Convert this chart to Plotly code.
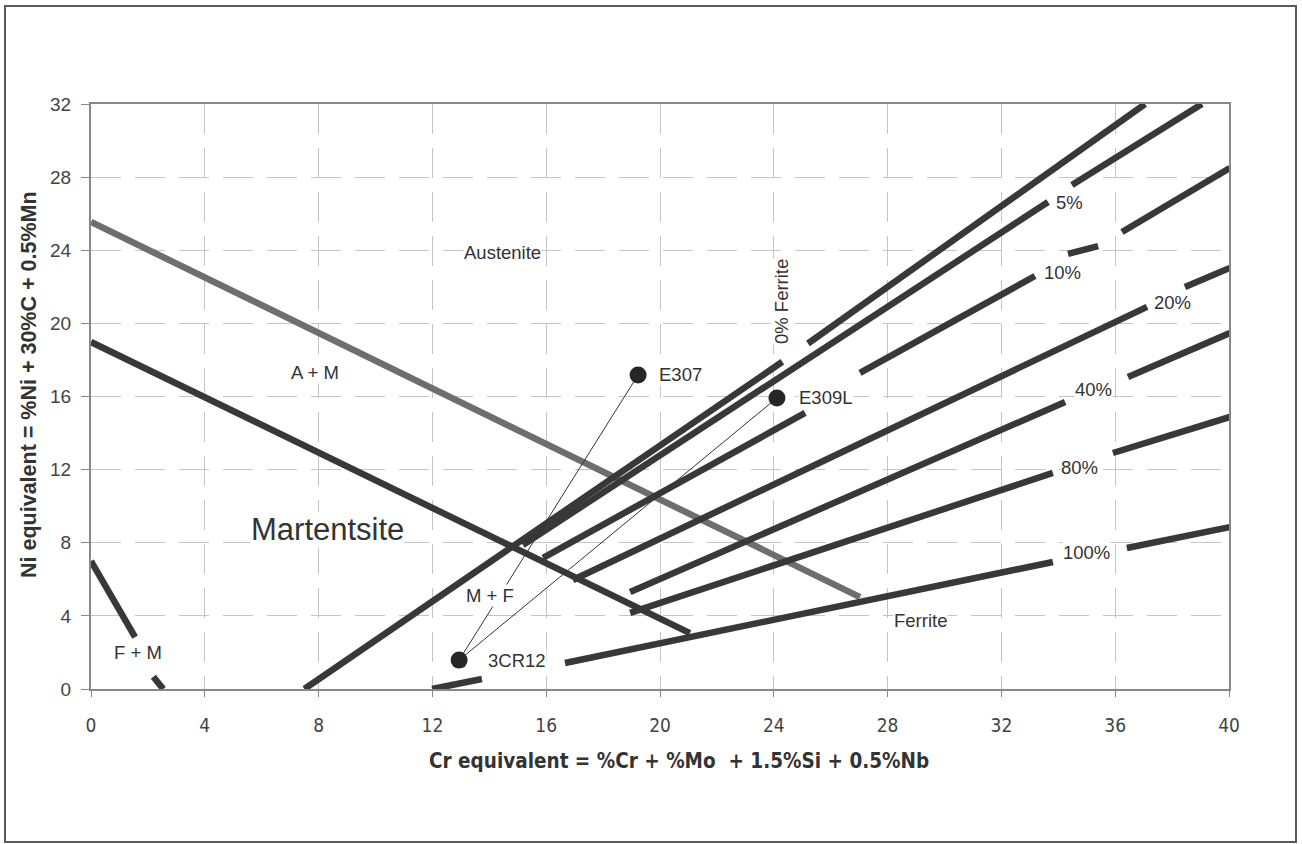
import plotly.graph_objects as go

# ---- data (Schaeffler-type constitution diagram) ----
# phase boundary lines (None = break in the printed line)
fm_x = [0.0, 1.55, None, 2.19, 2.54]
fm_y = [7.0, 2.84, None, 0.67, 0.0]
am_x = [0.0, 27.03]
am_y = [25.55, 5.03]
m_x = [0.0, 21.05]
m_y = [18.98, 3.06]
mf_x = [7.5, 24.3, None, 25.2, 37.05]
mf_y = [0.0, 17.9, None, 18.9, 32.0]

# iso-ferrite lines
f5_x = [15.18, 33.64, None, 34.48, 39.05]
f5_y = [7.88, 26.64, None, 27.57, 32.0]
f10_x = [15.89, 25.1, None, 27.03, 33.18, None, 34.34, 35.4, None, 36.24, 40.03]
f10_y = [7.17, 15.1, None, 17.29, 22.59, None, 23.8, 24.23, None, 25.0, 28.5]
f20_x = [16.94, 37.12, None, 38.45, 40.03]
f20_y = [5.96, 20.9, None, 21.99, 23.03]
f40_x = [18.95, 34.24, None, 36.45, 40.03]
f40_y = [5.31, 15.7, None, 17.07, 19.47]
f80_x = [18.95, 33.81, None, 35.92, 40.03]
f80_y = [4.16, 11.82, None, 12.91, 14.88]
f100_x = [11.99, 13.74, None, 16.66, 33.81, None, 36.41, 40.03]
f100_y = [0.0, 0.55, None, 1.42, 6.95, None, 7.71, 8.86]

# alloys
alloy_names = ["3CR12", "E307", "E309L"]
alloy_cr = [12.94, 19.23, 24.11]
alloy_ni = [1.58, 17.18, 15.92]

# region / line labels
label_text = ["Austenite", "A + M", "Martentsite", "M + F", "F + M", "Ferrite",
              "5%", "10%", "20%", "40%", "80%", "100%"]
label_x = [14.48, 7.87, 8.33, 14.02, 1.65, 29.14, 34.41, 34.13, 38.03, 35.22, 34.76, 35.0]
label_y = [23.9, 17.29, 8.7, 5.14, 2.02, 3.77, 26.59, 22.81, 21.12, 16.36, 12.09, 7.49]

x_ticks = [0, 4, 8, 12, 16, 20, 24, 28, 32, 36, 40]
y_ticks = [0, 4, 8, 12, 16, 20, 24, 28, 32]
x_title = "Cr equivalent = %Cr + %Mo  + 1.5%Si + 0.5%Nb"
y_title = "Ni equivalent = %Ni + 30%C + 0.5%Mn"

# ---- layout helpers (pixel geometry of the page) ----
W, H = 1302, 844
L, R, T, B = 91, 1229, 104, 689
pw, ph = R - L, B - T


def px(xp):
    return (xp - L) / pw


def py(yp):
    return (B - yp) / ph


DARK = "#383838"
GREY = "#6e6e6e"
FONT = "Liberation Sans, Arial, sans-serif"
NARROW = "Liberation Sans Narrow, DejaVu Sans Condensed, sans-serif"
label_size = [18.5, 18.5, 31, 18.5, 18.5, 18.5, 18.5, 18.5, 18.5, 18.5, 18.5, 18.5]
alloy_shift = [28, 20, 21]

fig = go.Figure()


def add_line(xs, ys, color=DARK, width=6.5):
    fig.add_trace(go.Scatter(x=xs, y=ys, mode="lines", connectgaps=False,
                             line=dict(color=color, width=width),
                             hoverinfo="skip", showlegend=False))


add_line(am_x, am_y, color=GREY)
for xs, ys in [(fm_x, fm_y), (m_x, m_y), (mf_x, mf_y), (f5_x, f5_y),
               (f10_x, f10_y), (f20_x, f20_y), (f40_x, f40_y),
               (f80_x, f80_y), (f100_x, f100_y)]:
    add_line(xs, ys)

# thin connectors from 3CR12 to the filler metals
for i in (1, 2):
    fig.add_trace(go.Scatter(x=[alloy_cr[0], alloy_cr[i]], y=[alloy_ni[0], alloy_ni[i]],
                             mode="lines", line=dict(color="#333333", width=1),
                             hoverinfo="skip", showlegend=False))

fig.add_trace(go.Scatter(x=alloy_cr, y=alloy_ni, mode="markers",
                         marker=dict(size=17, color="#262626"),
                         text=alloy_names, showlegend=False))

annotations = []
for t, x, y, s in zip(label_text, label_x, label_y, label_size):
    annotations.append(dict(x=x, y=y, xref="x", yref="y", text=t, showarrow=False,
                            font=dict(family=FONT, size=s, color="#333333"),
                            bgcolor="white", borderpad=0))
for n, x, y, sh in zip(alloy_names, alloy_cr, alloy_ni, alloy_shift):
    annotations.append(dict(x=x, y=y, xref="x", yref="y", text=n, showarrow=False,
                            xanchor="left", xshift=sh,
                            font=dict(family=FONT, size=18.5, color="#333333"),
                            bgcolor="white", borderpad=0))
annotations.append(dict(x=24.29, y=21.17, xref="x", yref="y", text="0% Ferrite",
                        showarrow=False, textangle=-90,
                        font=dict(family=FONT, size=18.5, color="#333333"),
                        bgcolor="white", borderpad=0))
# axis titles
annotations.append(dict(x=px(679), y=py(761), xref="paper", yref="paper",
                        xanchor="center", yanchor="middle",
                        text="<b>" + x_title + "</b>", showarrow=False,
                        font=dict(family=NARROW, size=20.5, color="#333333")))
annotations.append(dict(x=px(29), y=py(385), xref="paper", yref="paper",
                        xanchor="center", yanchor="middle",
                        text="<b>" + y_title + "</b>", showarrow=False, textangle=-90,
                        font=dict(family=FONT, size=21.5, color="#333333")))

shapes = [dict(type="rect", xref="paper", yref="paper",
               x0=px(5), x1=px(1296), y0=py(842), y1=py(6),
               line=dict(color="#5a5a5a", width=2), fillcolor="rgba(0,0,0,0)",
               layer="below")]

grid = dict(showgrid=True, gridcolor="#c4c4c4", gridwidth=1, griddash="30px,14px")

fig.update_layout(
    width=W, height=H,
    margin=dict(l=L, r=W - R, t=T, b=H - B),
    paper_bgcolor="white", plot_bgcolor="white",
    font=dict(family=FONT, color="#444444"),
    annotations=annotations, shapes=shapes,
    xaxis=dict(range=[0, 40], tickvals=x_ticks, ticks="outside", ticklen=6,
               tickcolor="#888888", showline=True, linecolor="#888888", linewidth=2,
               mirror=True, zeroline=False,
               tickfont=dict(family=NARROW, size=19, color="#444444"),
               ticklabelstandoff=12,
               **grid),
    yaxis=dict(range=[0, 32], tickvals=y_ticks, ticks="outside", ticklen=8,
               tickcolor="#888888", showline=True, linecolor="#888888", linewidth=2,
               mirror=True, zeroline=False,
               tickfont=dict(family=FONT, size=19, color="#444444"),
               ticklabelstandoff=6,
               **grid),
)

fig.write_html("out.html")
